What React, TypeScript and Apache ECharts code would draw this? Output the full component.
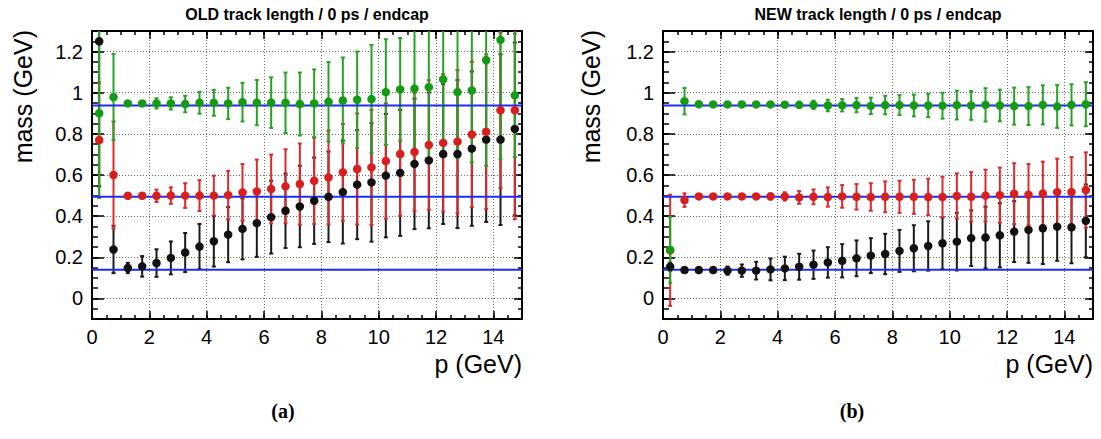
import React, { useEffect, useRef } from "react";
import * as echarts from "echarts";

// bin centres (GeV)
const momentum = [0.25, 0.75, 1.25, 1.75, 2.25, 2.75, 3.25, 3.75, 4.25, 4.75, 5.25, 5.75, 6.25, 6.75, 7.25, 7.75, 8.25, 8.75, 9.25, 9.75, 10.25, 10.75, 11.25, 11.75, 12.25, 12.75, 13.25, 13.75, 14.25, 14.75];

// OLD track length (panel a)
const oldPionMass = [1.25, 0.238, 0.148, 0.156, 0.172, 0.197, 0.223, 0.252, 0.278, 0.31, 0.338, 0.366, 0.395, 0.426, 0.447, 0.475, 0.494, 0.517, 0.553, 0.564, 0.597, 0.61, 0.654, 0.671, 0.702, 0.702, 0.728, 0.772, 0.772, 0.824];
const oldPionErr = [0.705, 0.115, 0.025, 0.05, 0.067, 0.08, 0.095, 0.11, 0.123, 0.134, 0.148, 0.164, 0.177, 0.181, 0.198, 0.21, 0.22, 0.25, 0.265, 0.288, 0.3, 0.306, 0.317, 0.33, 0.34, 0.36, 0.375, 0.4, 0.415, 0.42];
const oldKaonMass = [0.77, 0.6, 0.499, 0.499, 0.499, 0.5, 0.5, 0.5, 0.5, 0.502, 0.515, 0.52, 0.532, 0.545, 0.556, 0.572, 0.588, 0.613, 0.629, 0.637, 0.668, 0.702, 0.712, 0.746, 0.756, 0.762, 0.797, 0.81, 0.915, 0.915];
const oldKaonErr = [0.28, 0.26, 0.008, 0.01, 0.03, 0.04, 0.06, 0.075, 0.097, 0.118, 0.138, 0.155, 0.167, 0.18, 0.197, 0.21, 0.228, 0.235, 0.27, 0.28, 0.28, 0.3, 0.286, 0.315, 0.334, 0.348, 0.353, 0.376, 0.378, 0.53];
const oldProtonMass = [0.9, 0.979, 0.948, 0.948, 0.948, 0.948, 0.945, 0.951, 0.951, 0.948, 0.954, 0.952, 0.952, 0.951, 0.945, 0.948, 0.956, 0.962, 0.966, 0.969, 1.003, 1.016, 1.02, 1.027, 1.065, 1.003, 1.011, 1.158, 1.257, 0.987];
const oldProtonErr = [0.41, 0.21, 0.005, 0.008, 0.025, 0.03, 0.04, 0.053, 0.063, 0.076, 0.094, 0.11, 0.123, 0.147, 0.153, 0.165, 0.193, 0.209, 0.234, 0.263, 0.257, 0.25, 0.3, 0.37, 0.358, 0.32, 0.35, 0.513, 0.58, 0.3];

// NEW track length (panel b)
const newPionMass = [0.154, 0.138, 0.138, 0.138, 0.135, 0.135, 0.135, 0.141, 0.146, 0.154, 0.164, 0.175, 0.183, 0.195, 0.208, 0.216, 0.231, 0.244, 0.255, 0.268, 0.276, 0.293, 0.296, 0.307, 0.325, 0.333, 0.341, 0.349, 0.346, 0.377];
const newPionErr = [0.02, 0.006, 0.006, 0.008, 0.02, 0.03, 0.043, 0.053, 0.057, 0.063, 0.069, 0.074, 0.081, 0.087, 0.085, 0.098, 0.102, 0.112, 0.12, 0.126, 0.14, 0.135, 0.15, 0.156, 0.148, 0.16, 0.174, 0.166, 0.175, 0.177];
const newKaonMass = [0.234, 0.478, 0.496, 0.496, 0.496, 0.496, 0.496, 0.496, 0.496, 0.491, 0.494, 0.493, 0.496, 0.494, 0.493, 0.494, 0.494, 0.494, 0.493, 0.493, 0.498, 0.494, 0.5, 0.502, 0.509, 0.504, 0.51, 0.517, 0.517, 0.527];
const newKaonErr = [0.27, 0.033, 0.005, 0.005, 0.006, 0.008, 0.01, 0.015, 0.02, 0.031, 0.036, 0.047, 0.055, 0.062, 0.067, 0.075, 0.078, 0.083, 0.089, 0.098, 0.11, 0.12, 0.126, 0.134, 0.148, 0.149, 0.155, 0.162, 0.17, 0.183];
const newProtonMass = [0.236, 0.959, 0.944, 0.943, 0.943, 0.943, 0.943, 0.943, 0.942, 0.941, 0.941, 0.938, 0.939, 0.94, 0.936, 0.94, 0.94, 0.938, 0.938, 0.937, 0.94, 0.938, 0.941, 0.938, 0.935, 0.935, 0.941, 0.933, 0.941, 0.944];
const newProtonErr = [0.16, 0.064, 0.004, 0.004, 0.005, 0.006, 0.008, 0.01, 0.012, 0.015, 0.02, 0.028, 0.03, 0.035, 0.04, 0.045, 0.048, 0.053, 0.057, 0.063, 0.07, 0.07, 0.081, 0.077, 0.09, 0.092, 0.095, 0.104, 0.1, 0.107];

// nominal masses (GeV): pion, kaon, proton
const refMasses = [0.13957, 0.49368, 0.93827];

const panelTitles = ["OLD track length / 0 ps / endcap", "NEW track length / 0 ps / endcap"];
const subCaptions = ["(a)", "(b)"];
const xRange = [0, 15];
const yRange = [-0.1, 1.3];

const FONT = "Liberation Sans";
const BLACK = "#111111";
const RED = "#d81e1e";
const GREEN = "#139c13";
const BLUE = "#1d2ef0";

type Species = { mass: number[]; err: number[]; color: string; bar: string };

function errorBarSeries(xi: number, sp: Species) {
  return {
    type: "custom",
    xAxisIndex: xi,
    yAxisIndex: xi,
    z: 2,
    silent: true,
    data: momentum.map((p, i) => [p, sp.mass[i] - sp.err[i], sp.mass[i] + sp.err[i]]),
    encode: { x: 0, y: [1, 2] },
    renderItem: (params: any, api: any) => {
      const cs = params.coordSys;
      const top = cs.y;
      const bot = cs.y + cs.height;
      const x = api.value(0);
      const lo = api.coord([x, api.value(1)]);
      const hi = api.coord([x, api.value(2)]);
      const cap = 2;
      const yLo = Math.min(lo[1], bot);
      const yHi = Math.max(hi[1], top);
      const style = { stroke: sp.bar, lineWidth: 2 };
      const children: any[] = [
        { type: "line", shape: { x1: lo[0], y1: yLo, x2: hi[0], y2: yHi }, style },
      ];
      if (lo[1] <= bot) children.push({ type: "line", shape: { x1: lo[0] - cap, y1: lo[1], x2: lo[0] + cap, y2: lo[1] }, style });
      if (hi[1] >= top) children.push({ type: "line", shape: { x1: hi[0] - cap, y1: hi[1], x2: hi[0] + cap, y2: hi[1] }, style });
      return { type: "group", children };
    },
  };
}

function markerSeries(xi: number, sp: Species) {
  return {
    type: "scatter",
    xAxisIndex: xi,
    yAxisIndex: xi,
    z: 4,
    silent: true,
    symbol: "circle",
    symbolSize: 8.5,
    itemStyle: { color: sp.color, opacity: 1 },
    data: momentum.map((p, i) => [p, sp.mass[i]]),
  };
}

function refLineSeries(xi: number, m: number) {
  return {
    type: "line",
    xAxisIndex: xi,
    yAxisIndex: xi,
    z: 3,
    silent: true,
    symbol: "none",
    lineStyle: { color: BLUE, width: 2 },
    data: [[xRange[0], m], [xRange[1], m]],
  };
}

function buildOption() {
  const grids = [
    { left: 92, top: 31, width: 430, height: 288 },
    { left: 663, top: 31, width: 430, height: 288 },
  ];
  const panels: Species[][] = [
    [
      { mass: oldPionMass, err: oldPionErr, color: BLACK, bar: "#1a1a1a" },
      { mass: oldKaonMass, err: oldKaonErr, color: RED, bar: "#dc2a2a" },
      { mass: oldProtonMass, err: oldProtonErr, color: GREEN, bar: "#24a324" },
    ],
    [
      { mass: newPionMass, err: newPionErr, color: BLACK, bar: "#1a1a1a" },
      { mass: newKaonMass, err: newKaonErr, color: RED, bar: "#dc2a2a" },
      { mass: newProtonMass, err: newProtonErr, color: GREEN, bar: "#24a324" },
    ],
  ];

  const xAxis: any[] = [];
  const yAxis: any[] = [];
  const series: any[] = [];
  const noLine = { show: false, onZero: false };
  const frameLine = { show: true, onZero: false, lineStyle: { color: "#000", width: 2 } };
  const gridLine = { show: true, lineStyle: { color: "#666", width: 1, type: [1, 2] } };
  const tickStyle = { color: "#000", width: 1.5 };

  grids.forEach((_, g) => {
    // main axes come first so that axis index g matches the series
    xAxis[g] = {
      type: "value", gridIndex: g, position: "bottom", min: xRange[0], max: xRange[1], interval: 2,
      axisLine: frameLine,
      axisTick: { show: true, inside: true, length: 8, lineStyle: tickStyle },
      axisLabel: {
        show: true, margin: 8, color: "#000", fontSize: 20, fontFamily: FONT,
        formatter: (v: number) => (Math.abs(v % 2) < 1e-9 ? String(v) : ""),
      },
      splitLine: gridLine,
    };
    yAxis[g] = {
      type: "value", gridIndex: g, position: "left", min: yRange[0], max: yRange[1], splitNumber: 7,
      axisLine: frameLine,
      axisTick: { show: true, inside: true, length: 12, lineStyle: tickStyle },
      axisLabel: {
        show: true, margin: 9, color: "#000", fontSize: 20, fontFamily: FONT,
        formatter: (v: number) => {
          const r = Math.round(v * 10) / 10;
          if (Math.abs(v - yRange[0]) < 1e-6 || Math.abs(v - yRange[1]) < 1e-6) return "";
          return String(r);
        },
      },
      splitLine: gridLine,
    };
  });

  grids.forEach((_, g) => {
    // extra tick axes: minor bottom, major top, minor top
    xAxis.push(
      { type: "value", gridIndex: g, position: "bottom", min: xRange[0], max: xRange[1], interval: 0.5,
        axisLine: noLine, axisLabel: { show: false }, splitLine: { show: false },
        axisTick: { show: true, inside: true, length: 4, lineStyle: tickStyle } },
      { type: "value", gridIndex: g, position: "top", min: xRange[0], max: xRange[1], interval: 2,
        axisLine: frameLine, axisLabel: { show: false }, splitLine: { show: false },
        axisTick: { show: true, inside: true, length: 8, lineStyle: tickStyle } },
      { type: "value", gridIndex: g, position: "top", min: xRange[0], max: xRange[1], interval: 0.5,
        axisLine: noLine, axisLabel: { show: false }, splitLine: { show: false },
        axisTick: { show: true, inside: true, length: 4, lineStyle: tickStyle } }
    );
    yAxis.push(
      { type: "value", gridIndex: g, position: "left", min: yRange[0], max: yRange[1], interval: 0.05,
        axisLine: noLine, axisLabel: { show: false }, splitLine: { show: false },
        axisTick: { show: true, inside: true, length: 6, lineStyle: tickStyle } },
      { type: "value", gridIndex: g, position: "right", min: yRange[0], max: yRange[1], splitNumber: 7,
        axisLine: frameLine, axisLabel: { show: false }, splitLine: { show: false },
        axisTick: { show: true, inside: true, length: 8, lineStyle: tickStyle } },
      { type: "value", gridIndex: g, position: "right", min: yRange[0], max: yRange[1], interval: 0.05,
        axisLine: noLine, axisLabel: { show: false }, splitLine: { show: false },
        axisTick: { show: true, inside: true, length: 4, lineStyle: tickStyle } }
    );
  });

  panels.forEach((sps, g) => {
    sps.forEach((sp) => series.push(errorBarSeries(g, sp)));
    refMasses.forEach((m) => series.push(refLineSeries(g, m)));
    sps.forEach((sp) => series.push(markerSeries(g, sp)));
  });

  const centers = [307, 878];
  const rights = [522, 1093];
  const yLabelX = [23, 591];
  const capX = [283, 852];
  const graphic: any[] = [];
  centers.forEach((c, g) => {
    graphic.push(
      { type: "text", x: c, y: 14, style: { text: panelTitles[g], fontSize: 16, fontWeight: "bold", fontFamily: FONT, fill: "#000", align: "center", verticalAlign: "middle" } },
      { type: "text", x: yLabelX[g], y: 30, rotation: Math.PI / 2, style: { text: "mass (GeV)", fontSize: 25, fontFamily: FONT, fill: "#000", align: "right", verticalAlign: "middle" } },
      { type: "text", x: rights[g], y: 364, style: { text: "p (GeV)", fontSize: 25, fontFamily: FONT, fill: "#000", align: "right", verticalAlign: "middle" } },
      { type: "text", x: capX[g], y: 411, style: { text: subCaptions[g], fontSize: 20, fontWeight: "bold", fontFamily: "Liberation Serif", fill: "#000", align: "center", verticalAlign: "middle" } }
    );
  });

  return {
    animation: false,
    backgroundColor: "#ffffff",
    textStyle: { fontFamily: FONT },
    grid: grids,
    xAxis,
    yAxis,
    series,
    graphic,
  };
}

export default function App() {
  const ref = useRef<HTMLDivElement>(null);
  useEffect(() => {
    document.body.style.margin = "0";
    const chart = echarts.init(ref.current!, null, { renderer: "svg" });
    chart.setOption(buildOption() as any);
    return () => chart.dispose();
  }, []);
  return <div ref={ref} style={{ width: 1101, height: 439 }} />;
}
